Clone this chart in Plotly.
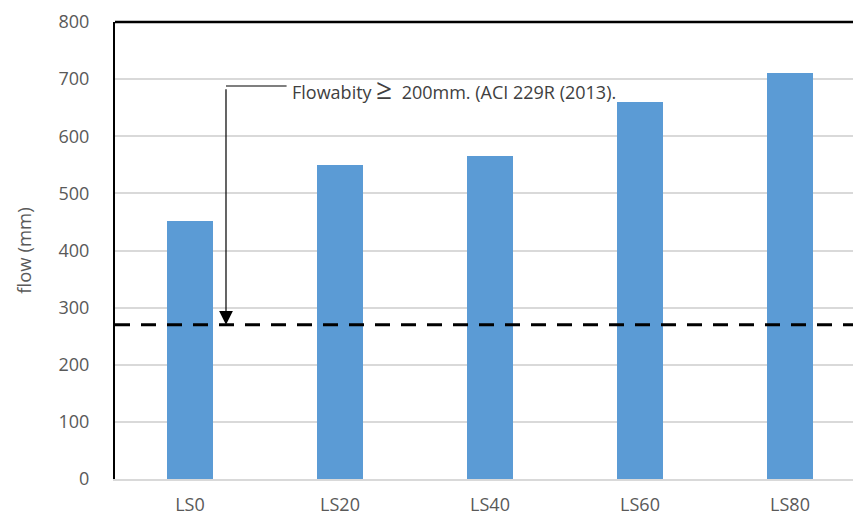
import plotly.graph_objects as go

categories = ["LS0", "LS20", "LS40", "LS60", "LS80"]
flow_values = [452, 550, 566, 660, 710]
limit_value = 270
label_value = 688
y_ticks = [0, 100, 200, 300, 400, 500, 600, 700, 800]

fig = go.Figure()
fig.add_trace(go.Bar(
    x=categories, y=flow_values, width=0.31,
    marker=dict(color="#5b9bd5", line=dict(color="#5b9bd5", width=0)),
    showlegend=False,
))

fnt = "Open Sans, Noto Sans, sans-serif"
fig.update_layout(
    width=853, height=516,
    margin=dict(l=115, r=0, t=22, b=37),
    paper_bgcolor="white", plot_bgcolor="white",
    font=dict(family=fnt, size=18, color="#595959"),
    bargap=0,
    xaxis=dict(
        range=[-0.5, 4.42], showline=True, linecolor="#d9d9d9", linewidth=2,
        showgrid=False, ticks="", tickfont=dict(size=18, color="#595959"),
        ticklabelstandoff=8,
    ),
    yaxis=dict(
        range=[0, 800], tickvals=y_ticks, showline=True, linecolor="black",
        linewidth=2, showgrid=True, gridcolor="#d9d9d9", gridwidth=1.5,
        zeroline=False, ticks="", tickfont=dict(size=18, color="#595959"),
        ticklabelstandoff=20,
        title=dict(text="flow (mm)", font=dict(size=18.5, color="#595959"), standoff=22),
    ),
)

# top border
fig.add_shape(type="line", xref="paper", yref="paper", x0=0, x1=1, y0=1, y1=1,
              line=dict(color="black", width=2.5))
# dashed limit line
fig.add_shape(type="line", xref="paper", yref="y", x0=0, x1=1,
              y0=limit_value, y1=limit_value,
              line=dict(color="black", width=3, dash="15px,11px"))
# elbow connector horizontal part
fig.add_shape(type="line", xref="paper", yref="y", x0=0.1504, x1=0.2325,
              y0=label_value, y1=label_value,
              line=dict(color="black", width=1.2))
# vertical arrow
fig.add_annotation(x=0.1504, xref="paper", y=limit_value, yref="y",
                   ax=0, ay=-237, axref="pixel", ayref="pixel",
                   showarrow=True, arrowhead=2, arrowsize=2.3, arrowwidth=1.2,
                   arrowcolor="black", text="")
# label
fig.add_annotation(x=0.2365, xref="paper", y=label_value - 4, yref="y",
                   xanchor="left", yanchor="middle", showarrow=False,
                   text='Flowabity <span style="font-size:28px">≥</span>  200mm. (ACI 229R (2013).',
                   font=dict(family=fnt, size=18, color="#404040"))

fig.write_html("out.html")
